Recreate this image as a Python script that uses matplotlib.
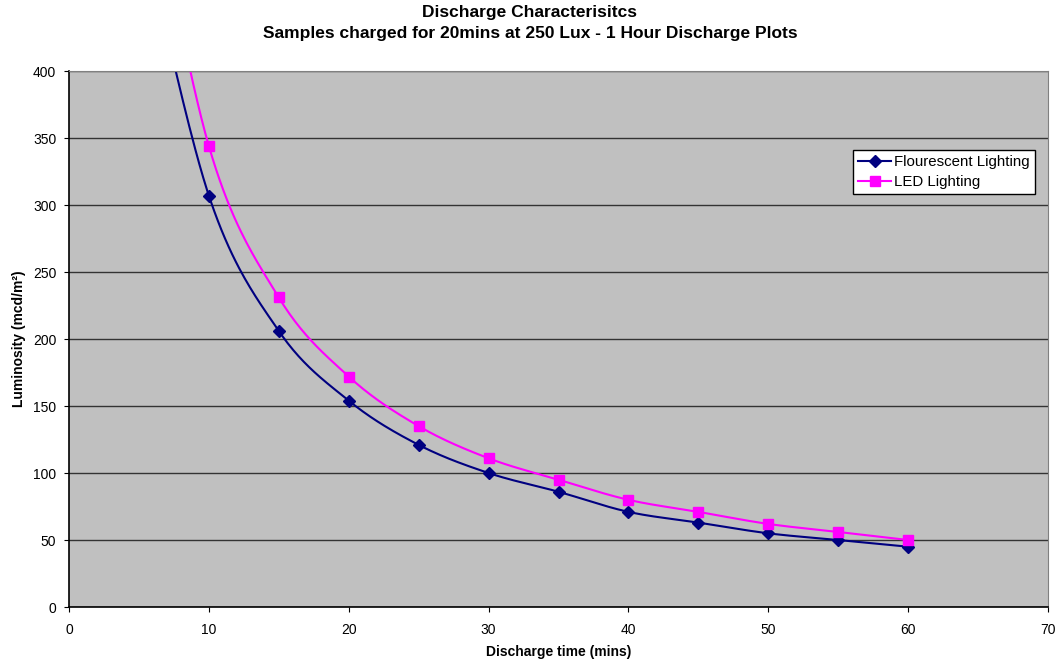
import matplotlib
matplotlib.use("Agg")
import matplotlib.pyplot as plt
import numpy as np

plt.rcParams['font.family'] = ['Liberation Sans', 'DejaVu Sans']

# discharge readings, minutes vs mcd/m²
minutes = [5, 10, 15, 20, 25, 30, 35, 40, 45, 50, 55, 60]
flourescent = [520, 307, 206, 154, 121, 100, 86, 71, 63, 55, 50, 45]
led = [590, 344, 231, 172, 135, 111, 95, 80, 71, 62, 56, 50]

XMAX, YMAX = 70, 400


def smooth(xs, ys, sx, sy, n=40):
    # bezier smoothing done in screen units (sx, sy = pixels per data unit)
    px = np.asarray(xs, float) * sx
    py = np.asarray(ys, float) * sy
    px = np.concatenate([[px[0]], px, [px[-1]]])
    py = np.concatenate([[py[0]], py, [py[-1]]])
    outx, outy = [], []
    t = np.linspace(0, 1, n)[:, None]
    for i in range(1, len(px) - 2):
        p0 = np.array([px[i], py[i]])
        p3 = np.array([px[i + 1], py[i + 1]])
        c1 = p0 + (p3 - np.array([px[i - 1], py[i - 1]])) / 6
        c2 = p3 - (np.array([px[i + 2], py[i + 2]]) - p0) / 6
        b = (1 - t) ** 3 * p0 + 3 * (1 - t) ** 2 * t * c1 + 3 * (1 - t) * t ** 2 * c2 + t ** 3 * p3
        outx.extend(b[:, 0] / sx)
        outy.extend(b[:, 1] / sy)
    return outx, outy


fig = plt.figure(figsize=(10.6, 6.65), dpi=100)
ax = fig.add_axes([0.0651, 0.0872, 0.9236, 0.806])
ax.set_facecolor('#C0C0C0')

bbox = ax.get_position()
pxx = bbox.width * 1060 / XMAX
pxy = bbox.height * 665 / YMAX

for ys, col, mk, ms, lab in [(flourescent, '#000080', 'D', 6, 'Flourescent Lighting'),
                              (led, '#FF00FF', 's', 6.5, 'LED Lighting')]:
    sx, sy = smooth(minutes, ys, pxx, pxy)
    ax.plot(sx, sy, color=col, lw=1.5)
    ax.plot(minutes, ys, linestyle='none', marker=mk, ms=ms, color=col)
    ax.plot([], [], color=col, lw=1.5, marker=mk, ms=ms, label=lab)

ax.set_xlim(0, XMAX)
ax.set_ylim(0, YMAX)
ax.set_xticks(np.arange(0, 71, 10))
ax.set_yticks(np.arange(0, 401, 50))
ax.yaxis.grid(True, color='#333333', lw=1)
ax.set_axisbelow(True)
ax.tick_params(direction='out', length=3.6, labelsize=10, color='black')
ax.tick_params(axis='x', pad=8)
ax.tick_params(axis='y', pad=5.5)
for s in ['top', 'right']:
    ax.spines[s].set_color('#808080')
for s in ['left', 'bottom']:
    ax.spines[s].set_color('black')
    ax.spines[s].set_linewidth(1.2)

ax.set_xlabel('Discharge time (mins)', fontsize=10, fontweight='bold', labelpad=6)
ax.set_ylabel('Luminosity (mcd/m²)', fontsize=10, fontweight='bold', labelpad=5)
fig.suptitle('Discharge Characterisitcs\nSamples charged for 20mins at 250 Lux - 1 Hour Discharge Plots',
             fontsize=12.5, fontweight='bold', y=0.992, linespacing=1.5)

leg = ax.legend(loc='upper left', bbox_to_anchor=(0.801, 0.853), fontsize=10.8,
                frameon=True, fancybox=False, borderpad=0.35, handlelength=2.2,
                handletextpad=0.2, labelspacing=0.38, borderaxespad=0)
leg.get_frame().set_edgecolor('black')
leg.get_frame().set_facecolor('white')
leg.get_frame().set_alpha(1)

fig.savefig('out.png', dpi=100)
